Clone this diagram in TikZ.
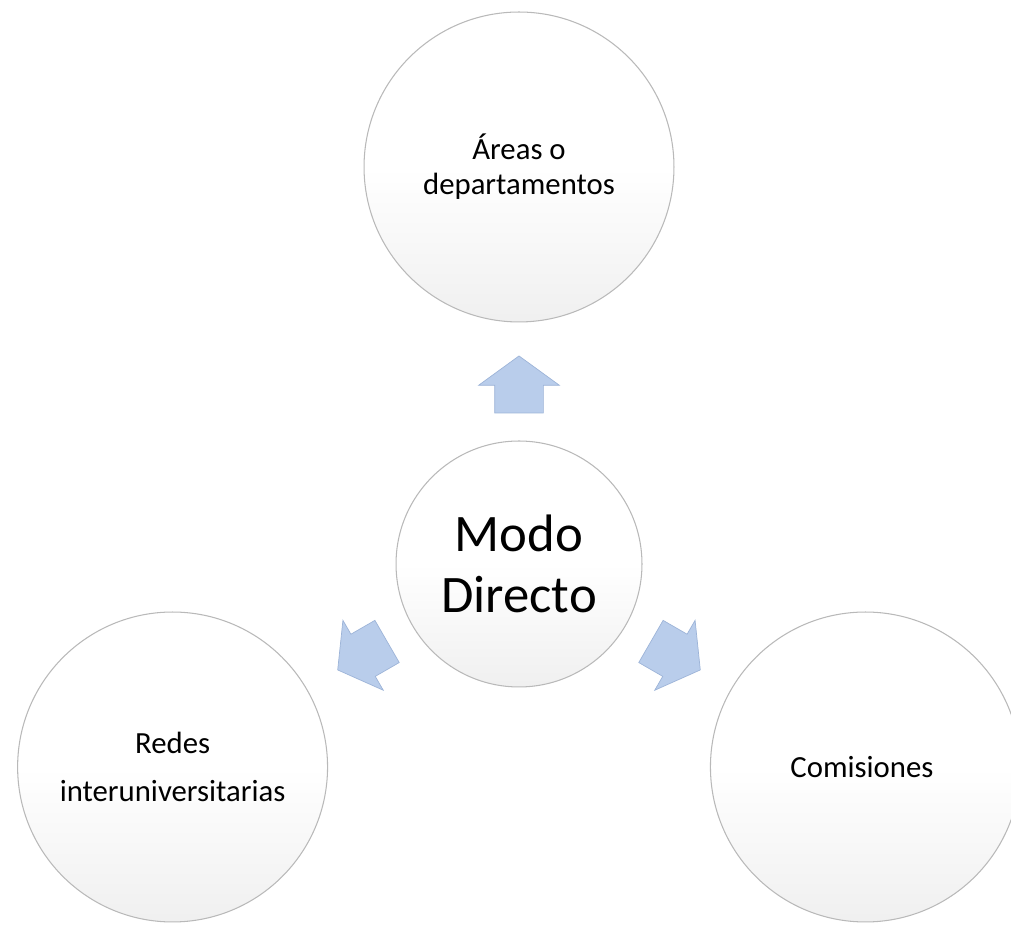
\documentclass[tikz,border=0pt]{standalone}
\usepackage{fontspec}
\setmainfont{Carlito}
\usetikzlibrary{shapes.arrows,calc}

\definecolor{azulflecha}{HTML}{B9CDEB}
\definecolor{bordeflecha}{HTML}{9DB4D8}

\newcommand{\ramas}{
        90/areas/{Áreas o\\departamentos},
        210/redes/{Redes\\[7pt]interuniversitarias},
        330/comisiones/{Comisiones}
    }

\tikzset{
    bola/.style={circle, draw=gray!55, line width=0.6pt,
        top color=white, bottom color=gray!12, middle color=white,
        align=center, inner sep=0pt},
    flecha/.style={single arrow, draw=bordeflecha, fill=azulflecha,
        line width=0.4pt, inner xsep=0.1cm, inner ysep=0.48cm,
        minimum width=0pt, minimum height=1.14cm,
        single arrow head extend=0.32cm, single arrow tip angle=108},
}

\begin{document}
\begin{tikzpicture}[x=0.02cm, y=0.02cm]
        \useasboundingbox (0,0) rectangle (1011,929);
        % Central circle
        \node[bola, minimum size=4.92cm, font=\fontsize{30}{35}\selectfont]
            (modo) at (519,365) {Modo\\Directo};
        % Outer circles and block arrows towards them
        \foreach \ang/\nombre/\texto in \ramas{
            \node[bola, minimum size=6.2cm, font=\fontsize{17.5}{20}\selectfont]
                (\nombre) at ($(modo)+(\ang:400)+(0,-3)$) {\texto};
            \node[flecha, rotate=\ang] (f-\nombre) at ($(modo)!0.43!(\nombre)$) {};
        }
\end{tikzpicture}
\end{document}
